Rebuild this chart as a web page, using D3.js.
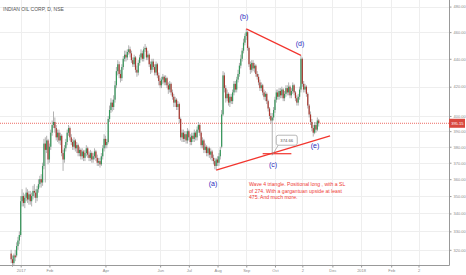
<!DOCTYPE html>
<html>
<head>
<meta charset="utf-8">
<script src="https://cdnjs.cloudflare.com/ajax/libs/d3/7.8.5/d3.min.js"></script>
<style>
  body { margin: 0; background: #fff; overflow: hidden; }
  text { font-family: "Liberation Sans", Arial, sans-serif; }
</style>
</head>
<body>
<script>
const w = 466;
const h = 275;
const plotRight = 449;
const plotBottom = 265;

// daily bars, bar 0 = 22 Dec 2016
const opens = [
  318, 315, 313, 317, 317, 322, 325,
  328, 347, 350, 346, 349, 352, 348, 351, 347, 350,
  353, 352, 349, 354, 357, 360, 358, 368, 382, 378,
  384, 372, 380, 389, 394, 396, 392, 386, 389, 384,
  387, 376, 372, 379, 383, 389, 392, 386, 383, 380,
  384, 379, 381, 376, 378, 374, 377, 373, 376, 379,
  375, 373, 376, 372, 374, 377, 373, 370, 371, 369,
  374, 379, 385, 381, 383, 398, 404, 409, 406, 411,
  421, 431, 436, 429, 426, 434, 440, 443, 441, 445,
  447, 444, 439, 436, 441, 432, 430, 437, 441, 444,
  440, 447, 448, 441, 443, 436, 432, 438, 434, 430,
  436, 428, 424, 421, 425, 427, 423, 426, 421, 418,
  422, 416, 413, 409, 411, 406, 408, 398, 386, 389,
  385, 388, 384, 390, 386, 383, 387, 385, 389, 386,
  391, 394, 389, 381, 384, 378, 380, 376, 379, 375,
  377, 373, 371, 368, 372, 370, 374, 380, 401, 428,
  419, 412, 415, 409, 413, 410, 416, 422, 418, 425,
  429, 435, 440, 446, 452, 457, 460, 448, 436, 432,
  437, 433, 435, 429, 427, 423, 419, 421, 416, 413,
  415, 410, 405, 400, 397, 399, 404, 411, 416, 413,
  417, 414, 418, 412, 415, 419, 416, 420, 414, 417,
  421, 416, 412, 409, 413, 418, 440, 422, 418, 420,
  415, 407, 401, 396, 392, 389, 394, 391, 397
];
const highs = [
  320, 317, 318, 320, 324, 327, 330,
  350, 354, 352, 351, 355, 354, 353, 353, 352, 356,
  357, 354, 356, 360, 362, 363, 370, 385, 386, 387,
  385, 382, 391, 397, 403, 399, 394, 391, 391, 389,
  388, 378, 381, 385, 391, 394, 393, 388, 385, 386,
  385, 383, 382, 380, 379, 379, 378, 378, 381, 380,
  377, 378, 377, 376, 379, 378, 375, 373, 373, 376,
  381, 388, 387, 385, 400, 407, 412, 411, 414, 424,
  434, 439, 438, 432, 436, 442, 446, 446, 447, 450,
  449, 446, 441, 443, 442, 435, 439, 443, 447, 446,
  449, 451, 449, 446, 444, 438, 440, 440, 436, 438,
  437, 430, 426, 427, 429, 428, 428, 427, 423, 424,
  423, 418, 415, 413, 412, 410, 409, 399, 391, 391,
  390, 390, 392, 391, 388, 389, 389, 391, 390, 393,
  396, 395, 390, 386, 385, 382, 381, 380, 380, 379,
  378, 375, 373, 373, 374, 376, 380, 404, 431, 430,
  421, 418, 416, 415, 415, 418, 424, 424, 427, 432,
  437, 443, 448, 455, 459, 462.5, 461, 449, 438, 439,
  439, 437, 436, 431, 429, 425, 423, 422, 418, 417,
  416, 411, 406, 402, 402, 406, 413, 418, 418, 419,
  419, 420, 419, 417, 421, 421, 423, 421, 419, 423,
  422, 417, 414, 415, 420, 442.5, 441, 424, 422, 421,
  416, 408, 403, 398, 394, 396, 396, 399, 398
];
const lows = [
  313, 311, 312, 314, 316, 320, 323,
  327, 344, 344, 343, 347, 346, 345, 345, 344, 348,
  349, 346, 347, 352, 355, 355, 356, 366, 358, 376,
  369, 370, 378, 387, 392, 389, 384, 383, 382, 381,
  374, 365, 370, 377, 381, 387, 384, 381, 378, 378,
  377, 376, 374, 374, 372, 372, 371, 371, 374, 373,
  371, 371, 370, 370, 372, 371, 368, 368, 367, 368,
  372, 377, 379, 379, 382, 396, 402, 403, 404, 409,
  419, 428, 426, 423, 424, 432, 438, 438, 439, 443,
  441, 437, 434, 434, 430, 427, 428, 435, 439, 438,
  438, 445, 439, 439, 434, 429, 430, 432, 428, 428,
  426, 421, 419, 419, 422, 421, 421, 419, 415, 416,
  414, 411, 406, 406, 404, 404, 395, 384, 383, 383,
  383, 382, 382, 384, 381, 381, 383, 383, 384, 384,
  389, 387, 379, 379, 376, 376, 374, 374, 373, 372,
  371, 369, 366, 365.5, 368, 368, 372, 379, 400, 416,
  409, 410, 407, 406, 408, 408, 414, 416, 416, 423,
  427, 433, 438, 444, 450, 454, 446, 434, 429, 430,
  431, 430, 427, 425, 421, 417, 417, 414, 411, 410,
  408, 403, 398, 395, 374.66, 397, 402, 409, 411, 411,
  412, 412, 410, 410, 413, 414, 414, 412, 412, 415,
  414, 410, 407, 407, 411, 416, 420, 416, 416, 413,
  405, 399, 394, 390, 386.5, 388, 389, 390, 393
];
const closes = [
  315, 313, 317, 316, 322, 325, 328,
  347, 350, 346, 349, 352, 348, 351, 347, 350, 353,
  352, 349, 354, 357, 360, 358, 368, 382, 378, 384,
  372, 380, 389, 394, 396, 392, 386, 389, 384, 387,
  376, 372, 379, 383, 389, 392, 386, 383, 380, 384,
  379, 381, 376, 378, 374, 377, 373, 376, 379, 375,
  373, 376, 372, 374, 377, 373, 370, 371, 369, 374,
  379, 385, 381, 383, 398, 404, 409, 406, 411, 421,
  431, 436, 429, 426, 434, 440, 443, 441, 445, 447,
  444, 439, 436, 441, 432, 430, 437, 441, 444, 440,
  447, 448, 441, 443, 436, 432, 438, 434, 430, 436,
  428, 424, 421, 425, 427, 423, 426, 421, 418, 422,
  416, 413, 409, 411, 406, 408, 398, 386, 389, 385,
  388, 384, 390, 386, 383, 387, 385, 389, 386, 391,
  394, 389, 381, 384, 378, 380, 376, 379, 375, 377,
  373, 371, 368, 372, 370, 374, 378, 401, 428, 419,
  412, 415, 409, 413, 410, 416, 422, 418, 425, 429,
  435, 440, 446, 452, 457, 460, 448, 436, 432, 437,
  433, 435, 429, 427, 423, 419, 421, 416, 413, 415,
  410, 405, 400, 397, 399, 404, 411, 416, 413, 417,
  414, 418, 412, 415, 419, 416, 420, 414, 417, 421,
  416, 412, 409, 413, 418, 440, 422, 418, 420, 415,
  407, 401, 396, 392, 389, 394, 391, 397, 395.15
];
const lastPrice = 395.15;

const priceTicks = [480, 460, 440, 420, 400, 390, 380, 370, 360, 350, 340, 330, 320];
const timeTickBars = [7, 28, 69, 109, 130, 151, 172, 193, 213, 235, 256, 278, 298];
const timeTickLabels = ["2017", "Feb", "Apr", "Jun", "Jul", "Aug", "Sep", "Oct", "2", "Dec", "2018", "Feb", "2"];

// wave labels
const waveNames = ["(a)", "(b)", "(c)", "(d)", "(e)"];
const waveBars = [147.7, 170.3, 191.6, 211.3, 222.3];
const wavePrices = [357.7, 471.8, 368.6, 451.0, 380.5];

// drawn lines: [bar, price] pairs
const lowerLine = [[150, 365.5], [233.3, 386.9]];
const upperLine = [[172, 462.5], [212, 442.5]];
const stopLine = [[184, 375.6], [205, 375.6]];
const calloutBar = 191;
const calloutPrice = 374.66;

const noteLines = [
  "Wave 4 triangle. Positional long , with a SL",
  "of 274. With a gargantuan upside at least",
  "475. And much more."
];
const noteBar = 174;
const notePrice = 357;

const svg = d3.select("body").append("svg").attr("width", w).attr("height", h);

const x = d3.scaleLinear().domain([-8.14, 320.3]).range([0, plotRight]);
const y = d3.scaleLog().domain([312.0, 485.3]).range([plotBottom, 0]);

// grid
svg.append("g").selectAll("line").data(priceTicks).join("line")
  .attr("x1", 0).attr("x2", plotRight)
  .attr("y1", d => Math.round(y(d)) + 0.5).attr("y2", d => Math.round(y(d)) + 0.5)
  .attr("stroke", "#eeeeee");
svg.append("g").selectAll("line").data(timeTickBars).join("line")
  .attr("x1", d => Math.round(x(d)) + 0.5).attr("x2", d => Math.round(x(d)) + 0.5)
  .attr("y1", 0).attr("y2", plotBottom)
  .attr("stroke", "#eeeeee");

svg.append("text").attr("x", 3).attr("y", 10.5)
  .attr("font-size", 5).attr("fill", "#555")
  .text("INDIAN OIL CORP, D, NSE");

// last price line
svg.append("line")
  .attr("x1", 0).attr("x2", plotRight)
  .attr("y1", y(lastPrice)).attr("y2", y(lastPrice))
  .attr("stroke", "#e8453c").attr("stroke-width", 0.8)
  .attr("stroke-dasharray", "1,1");

// candles
const bars = d3.range(closes.length);
svg.append("g").selectAll("line").data(bars).join("line")
  .attr("x1", i => x(i)).attr("x2", i => x(i))
  .attr("y1", i => y(highs[i])).attr("y2", i => y(lows[i]))
  .attr("stroke", "#a9a9a9").attr("stroke-width", 0.9);
svg.append("g").selectAll("rect").data(bars).join("rect")
  .attr("x", i => x(i) - 0.6)
  .attr("width", 1.2)
  .attr("y", i => y(Math.max(opens[i], closes[i])))
  .attr("height", i => Math.max(0.7, Math.abs(y(opens[i]) - y(closes[i]))))
  .attr("fill", i => closes[i] >= opens[i] ? "#35965a" : "#a8372f");

// annotations
const red = "#f2352e";
[lowerLine, upperLine, stopLine].forEach(function (seg) {
  svg.append("line")
    .attr("x1", x(seg[0][0])).attr("y1", y(seg[0][1]))
    .attr("x2", x(seg[1][0])).attr("y2", y(seg[1][1]))
    .attr("stroke", red).attr("stroke-width", 1.2);
});

const cx = x(calloutBar);
const cy = y(calloutPrice);
const callout = svg.append("g").attr("transform", "translate(" + cx + "," + cy + ")");
callout.append("path")
  .attr("d", "M0,0 L6,-10")
  .attr("stroke", "#999").attr("fill", "none").attr("stroke-width", 0.7);
callout.append("rect")
  .attr("x", 4).attr("y", -20).attr("width", 21).attr("height", 10).attr("rx", 2)
  .attr("fill", "#fff").attr("stroke", "#999").attr("stroke-width", 0.7);
callout.append("text")
  .attr("x", 14.5).attr("y", -13.4).attr("text-anchor", "middle")
  .attr("font-size", 4.2).attr("fill", "#555")
  .text(d3.format(".2f")(calloutPrice));

svg.append("g").selectAll("text").data(waveNames).join("text")
  .attr("x", (d, i) => x(waveBars[i]))
  .attr("y", (d, i) => y(wavePrices[i]) + 2.5)
  .attr("text-anchor", "middle")
  .attr("font-size", 7)
  .attr("fill", "#2a2ac0")
  .text(d => d);

svg.append("g").selectAll("text").data(noteLines).join("text")
  .attr("x", x(noteBar))
  .attr("y", (d, i) => y(notePrice) + 1.8 + i * 6.7)
  .attr("font-size", 5.1)
  .attr("fill", "#ee3b35")
  .text(d => d);

// axes
const yAxis = d3.axisRight(y).tickValues(priceTicks).tickFormat(d3.format(".2f")).tickSize(2).tickPadding(2);
const gy = svg.append("g").attr("transform", "translate(" + (plotRight + 0.5) + ",0)").call(yAxis);
gy.select(".domain").attr("stroke", "#999").attr("d", "M0,0V" + (plotBottom + 0.5));
gy.selectAll(".tick line").attr("stroke", "#999");
gy.selectAll(".tick text").attr("font-size", 4).attr("fill", "#8a8a8a");

const xAxis = d3.axisBottom(x).tickValues(timeTickBars)
  .tickFormat((d, i) => timeTickLabels[i]).tickSize(2).tickPadding(2);
const gx = svg.append("g").attr("transform", "translate(0," + (plotBottom + 0.5) + ")").call(xAxis);
gx.select(".domain").attr("stroke", "#999").attr("d", "M0,0H" + (plotRight + 0.5));
gx.selectAll(".tick line").attr("stroke", "#999");
gx.selectAll(".tick text").attr("font-size", 4).attr("fill", "#8a8a8a");

// last price tag
const tag = svg.append("g").attr("transform", "translate(" + plotRight + "," + y(lastPrice) + ")");
tag.append("rect").attr("x", 0).attr("y", -4.5).attr("width", 16).attr("height", 9).attr("fill", "#d9483f");
tag.append("text").attr("x", 8.3).attr("y", 1.5).attr("text-anchor", "middle")
  .attr("font-size", 4).attr("fill", "#fff")
  .text(d3.format(".2f")(lastPrice));
</script>
</body>
</html>
